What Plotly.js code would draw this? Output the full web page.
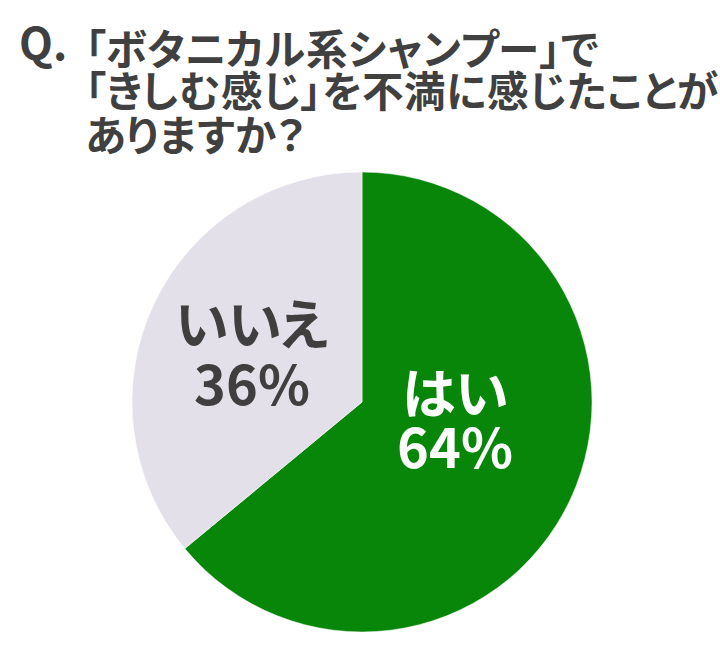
<!DOCTYPE html>
<html>
<head>
<meta charset="utf-8">
<script src="https://cdn.plot.ly/plotly-3.0.1.min.js"></script>
<style>
@font-face {
  font-family: "JPTight";
  src: local("Noto Sans CJK JP Bold"), local("NotoSansCJKjp-Bold");
  font-weight: 700;
  ascent-override: 86%;
  descent-override: 10%;
  line-gap-override: 0%;
}
@font-face {
  font-family: "JPTight";
  src: local("Noto Sans CJK JP"), local("Noto Sans CJK JP Regular"), local("NotoSansCJKjp-Regular");
  font-weight: 400;
  ascent-override: 86%;
  descent-override: 10%;
  line-gap-override: 0%;
}
html,body{margin:0;padding:0;background:#fff;}
text{font-feature-settings:"palt" 1;}
</style>
</head>
<body>
<div id="chart" style="width:720px;height:662px;"></div>
<script>
const labels = ['はい', 'いいえ'];
const values = [64, 36];
const colors = ['#07860a', '#e4e0ea'];
const labelColors = ['#ffffff', '#3f3f3f'];
const titlePrefix = 'Q.';
const titleLines = ['「ボタニカル系シャンプー」で', '「きしむ感じ」を不満に感じたことが', 'ありますか？'];

const W = 720, H = 662;
const px = x => x / W;
const py = y => 1 - y / H;
const FONT = '"JPTight", "Noto Sans CJK JP", "Noto Sans", sans-serif';
const titleColor = '#404040';

const total = values.reduce((a, b) => a + b, 0);
// label block: [x centre, y top] in pixels, and line offsets (px)
const labelPos = [[455, 366], [252, 297]];
const labelDy = [[0, 54], [0, 60]];
const titleDy = [0, 42, 86];

const annotations = [];
const lineSpacing = [];
annotations.push({
  text: '<b>' + titlePrefix + '</b>', xref: 'paper', yref: 'paper',
  x: px(17), y: py(45.5), xanchor: 'left', yanchor: 'middle', showarrow: false,
  font: {family: FONT, size: 44, color: titleColor}
});
lineSpacing.push(null);
annotations.push({
  text: titleLines.map(t => '<b>' + t + '</b>').join('<br>'), xref: 'paper', yref: 'paper',
  x: px(83), y: py(25.5), xanchor: 'left', yanchor: 'top', align: 'left', showarrow: false,
  font: {family: FONT, size: 41.5, color: titleColor}
});
lineSpacing.push(titleDy);
labels.forEach((l, i) => {
  const pct = Math.round(values[i] / total * 100) + '%';
  annotations.push({
    text: '<b>' + l + '</b><br><b>' + pct + '</b>', xref: 'paper', yref: 'paper',
    x: px(labelPos[i][0]), y: py(labelPos[i][1]), xanchor: 'center', yanchor: 'top', align: 'center', showarrow: false,
    font: {family: FONT, size: 54, color: labelColors[i]}
  });
  lineSpacing.push(labelDy[i]);
});

const data = [{
  type: 'pie',
  labels: labels,
  values: values,
  sort: false,
  direction: 'clockwise',
  rotation: 0,
  textinfo: 'none',
  hoverinfo: 'label+percent',
  marker: {colors: colors, line: {color: '#ffffff', width: 0.5}},
  domain: {x: [px(362 - 230), px(362 + 230)], y: [py(632), py(172)]}
}];

const layout = {
  width: W, height: H,
  margin: {l: 0, r: 0, t: 0, b: 0},
  paper_bgcolor: '#ffffff',
  showlegend: false,
  annotations: annotations
};

function fixLines(gd) {
  lineSpacing.forEach((sp, i) => {
    if (!sp) return;
    const t = gd.querySelector('.annotation[data-index="' + i + '"] .annotation-text');
    if (!t) return;
    t.querySelectorAll('tspan.line').forEach((ts, n) => {
      if (sp[n] !== undefined) ts.setAttribute('dy', sp[n]);
    });
  });
}

const draw = () => Plotly.newPlot('chart', data, layout, {displayModeBar: false, staticPlot: true}).then(fixLines);
if (document.fonts && document.fonts.load) {
  Promise.all([
    document.fonts.load('700 40px "JPTight"', 'あ'),
    document.fonts.load('400 40px "JPTight"', 'あ')
  ]).catch(() => {}).then(draw);
} else {
  draw();
}
</script>
</body>
</html>
